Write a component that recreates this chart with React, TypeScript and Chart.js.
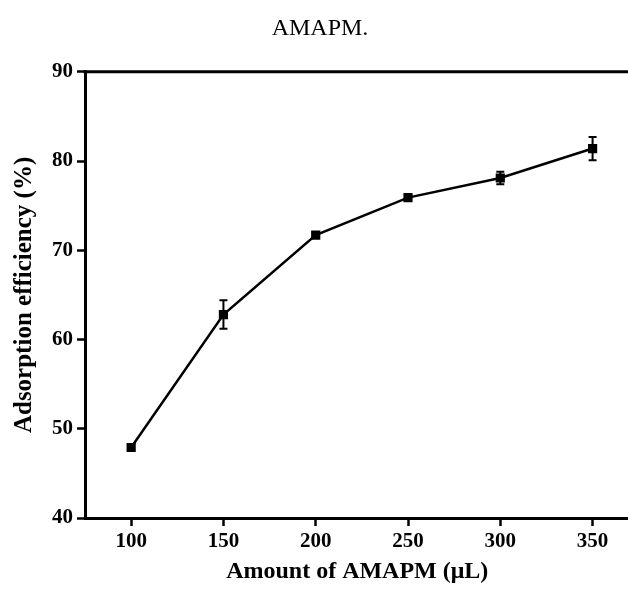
import React, { useEffect, useRef } from "react";
import { Chart, registerables } from "chart.js";

Chart.register(...registerables);

const chartTitle = "AMAPM.";
const xAxisTitle = "Amount of AMAPM (\u03bcL)";
const yAxisTitle = "Adsorption efficiency (%)";
const amounts = [100, 150, 200, 250, 300, 350];
const efficiency = [47.9, 62.8, 71.7, 75.9, 78.1, 81.4];
const errors = [0.3, 1.6, 0.3, 0.3, 0.7, 1.3];
const xTicks = [100, 150, 200, 250, 300, 350];
const yTicks = [40, 50, 60, 70, 80, 90];

const FONT = "'Liberation Serif', 'Times New Roman', serif";

const errorBarPlugin = {
  id: "errorBars",
  afterDatasetsDraw(chart: any) {
    const { ctx, scales } = chart;
    const xs = scales.x;
    const ys = scales.y;
    ctx.save();
    ctx.strokeStyle = "#000";
    ctx.lineWidth = 2;
    amounts.forEach((a, i) => {
      const px = xs.getPixelForValue(a);
      const top = ys.getPixelForValue(efficiency[i] + errors[i]);
      const bot = ys.getPixelForValue(efficiency[i] - errors[i]);
      ctx.beginPath();
      ctx.moveTo(px, top);
      ctx.lineTo(px, bot);
      ctx.moveTo(px - 4, top);
      ctx.lineTo(px + 4, top);
      ctx.moveTo(px - 4, bot);
      ctx.lineTo(px + 4, bot);
      ctx.stroke();
    });
    ctx.restore();
  },
};

const topBorderPlugin = {
  id: "topBorder",
  afterDraw(chart: any) {
    const { ctx, chartArea } = chart;
    ctx.save();
    ctx.strokeStyle = "#000";
    ctx.lineWidth = 3;
    ctx.beginPath();
    ctx.moveTo(chartArea.left - 1.5, chartArea.top);
    ctx.lineTo(chart.width, chartArea.top);
    ctx.stroke();
    ctx.restore();
  },
};

export default function App() {
  const canvasRef = useRef<HTMLCanvasElement | null>(null);

  useEffect(() => {
    if (!canvasRef.current) return;
    const chart = new Chart(canvasRef.current, {
      type: "line",
      data: {
        datasets: [
          {
            data: amounts.map((a, i) => ({ x: a, y: efficiency[i] })),
            borderColor: "#000",
            borderWidth: 2.5,
            pointStyle: "rect",
            pointRadius: 6.5,
            pointBackgroundColor: "#000",
            pointBorderColor: "#000",
            pointBorderWidth: 0,
            tension: 0,
          },
        ],
      },
      options: {
        animation: false,
        responsive: false,
        events: [],
        layout: { padding: { top: 14, left: 4, right: 0, bottom: 0 } },
        plugins: {
          legend: { display: false },
          tooltip: { enabled: false },
          title: {
            display: true,
            text: chartTitle,
            color: "#000",
            font: { family: FONT, size: 24, weight: "normal" },
            padding: { top: 0, bottom: 29 },
          },
        },
        scales: {
          x: {
            type: "linear",
            min: 75,
            max: 370,
            afterBuildTicks: (s: any) => {
              s.ticks = xTicks.map((v) => ({ value: v }));
            },
            grid: {
              display: true,
              drawOnChartArea: false,
              drawTicks: true,
              tickLength: 8,
              tickWidth: 2.5,
              tickColor: "#000",
            },
            border: { display: true, color: "#000", width: 3 },
            ticks: {
              color: "#000",
              padding: 3,
              maxRotation: 0,
              font: { family: FONT, size: 21, weight: "bold" },
            },
            title: {
              display: true,
              text: xAxisTitle,
              color: "#000",
              font: { family: FONT, size: 24, weight: "bold" },
              padding: { top: 0, bottom: 4 },
            },
          },
          y: {
            type: "linear",
            min: 40,
            max: 90,
            afterBuildTicks: (s: any) => {
              s.ticks = yTicks.map((v) => ({ value: v }));
            },
            grid: {
              display: true,
              drawOnChartArea: false,
              drawTicks: true,
              tickLength: 8,
              tickWidth: 2.5,
              tickColor: "#000",
            },
            border: { display: true, color: "#000", width: 3 },
            ticks: {
              color: "#000",
              padding: 4,
              font: { family: FONT, size: 21, weight: "bold" },
            },
            title: {
              display: true,
              text: yAxisTitle,
              color: "#000",
              font: { family: FONT, size: 25, weight: "bold" },
              padding: { top: 6, bottom: 8 },
            },
          },
        },
      },
      plugins: [errorBarPlugin, topBorderPlugin],
    });
    return () => chart.destroy();
  }, []);

  return (
    <div style={{ position: "absolute", left: 0, top: 0, width: 628, height: 590, overflow: "hidden", background: "#fff" }}>
      <canvas ref={canvasRef} width={636} height={590} style={{ width: 636, height: 590, display: "block" }} />
    </div>
  );
}
